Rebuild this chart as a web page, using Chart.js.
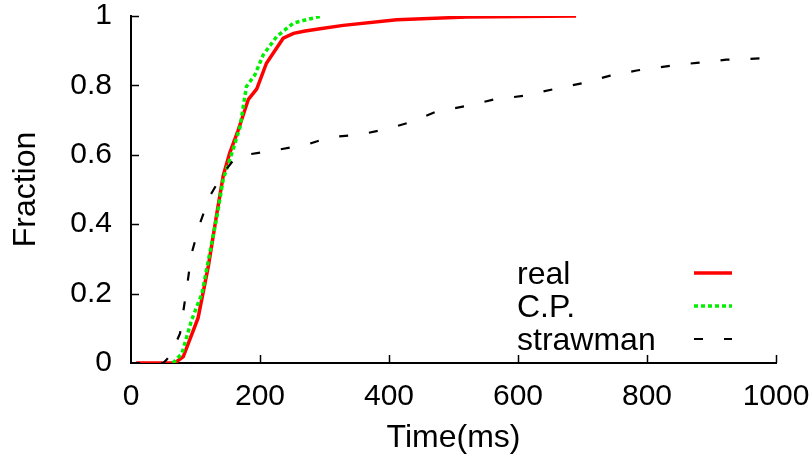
<!DOCTYPE html>
<html>
<head>
<meta charset="utf-8">
<title>Fraction vs Time</title>
<script src="https://cdn.jsdelivr.net/npm/chart.js@4.4.1/dist/chart.umd.min.js"></script>
<style>
  html, body { margin: 0; padding: 0; background: #fff; }
  #wrap { width: 811px; height: 465px; }
</style>
</head>
<body>
<div id="wrap"><canvas id="myChart" width="811" height="465"></canvas></div>
<script>
// values (x in ms, y = CDF fraction)
var realX = [8, 68, 81, 104, 120, 133, 143, 153, 166, 182, 195, 210, 236, 252, 270, 293, 329, 412, 520, 690];
var realY = [0, 0, 0.018, 0.13, 0.28, 0.43, 0.54, 0.605, 0.67, 0.76, 0.79, 0.864, 0.936, 0.95, 0.957, 0.963, 0.973, 0.989, 0.997, 1.0];

var cpX = [65, 79, 94, 110, 122, 133, 143, 158, 169, 179, 192, 205, 226, 252, 280, 296];
var cpY = [0, 0.028, 0.124, 0.2, 0.316, 0.42, 0.53, 0.614, 0.68, 0.797, 0.83, 0.888, 0.941, 0.98, 0.993, 1.0];

var strawX = [0, 50, 55, 63, 76, 86, 94, 107, 122, 143, 161, 179, 226, 272, 308, 355, 402, 433, 474, 518, 562, 608, 655, 699, 743, 784, 830, 877, 923, 980];
var strawY = [0, 0, 0.009, 0.03, 0.085, 0.21, 0.316, 0.403, 0.48, 0.547, 0.59, 0.6, 0.614, 0.629, 0.651, 0.658, 0.677, 0.694, 0.725, 0.74, 0.759, 0.77, 0.789, 0.806, 0.828, 0.843, 0.855, 0.865, 0.874, 0.878];

var seriesNames = ["real", "C.P.", "strawman"];
var xTicks = [0, 200, 400, 600, 800, 1000];
var yTicks = [0, 0.2, 0.4, 0.6, 0.8, 1];

var FONT = "'Liberation Sans', Arial, Helvetica, sans-serif";

function pts(xs, ys) {
  return xs.map(function (x, i) { return { x: x, y: ys[i] }; });
}

// gnuplot style: ticks point inward
var innerTicks = {
  id: 'innerTicks',
  afterDatasetsDraw: function (chart) {
    var ctx = chart.ctx, xs = chart.scales.x, ys = chart.scales.y;
    var a = chart.chartArea;
    ctx.save();
    ctx.strokeStyle = '#000';
    ctx.lineWidth = 1.5;
    ctx.beginPath();
    xTicks.forEach(function (v) {
      if (v === 0) return;
      var px = Math.round(xs.getPixelForValue(v)) + 0.5;
      ctx.moveTo(px, a.bottom);
      ctx.lineTo(px, a.bottom - 8);
    });
    yTicks.forEach(function (v) {
      if (v === 0) return;
      var py = Math.round(ys.getPixelForValue(v)) + 0.5;
      ctx.moveTo(a.left, py);
      ctx.lineTo(a.left + 8, py);
    });
    ctx.stroke();
    ctx.restore();
  }
};

// legend: text on the left, line sample on the right
var keyBox = {
  id: 'keyBox',
  afterDraw: function (chart) {
    var ctx = chart.ctx;
    ctx.save();
    ctx.font = '32px ' + FONT;
    ctx.fillStyle = '#000';
    ctx.textBaseline = 'alphabetic';
    ctx.textAlign = 'left';
    var rows = [284, 317, 350];
    chart.data.datasets.forEach(function (ds, i) {
      ctx.fillText(seriesNames[i], 517, rows[i]);
      ctx.beginPath();
      ctx.strokeStyle = ds.borderColor;
      ctx.lineWidth = ds.borderWidth;
      ctx.setLineDash(ds.borderDash || []);
      ctx.moveTo(694, rows[i] - 11);
      ctx.lineTo(732, rows[i] - 11);
      ctx.stroke();
    });
    ctx.restore();
  }
};

function plainLabel(v) { return String(v); }

new Chart(document.getElementById('myChart').getContext('2d'), {
  type: 'line',
  data: {
    datasets: [
      {
        label: seriesNames[0],
        data: pts(realX, realY),
        borderColor: '#ff0000',
        borderWidth: 3.5,
        order: 3
      },
      {
        label: seriesNames[1],
        data: pts(cpX, cpY),
        borderColor: '#00f000',
        borderWidth: 3.5,
        borderDash: [4, 3],
        order: 2
      },
      {
        label: seriesNames[2],
        data: pts(strawX, strawY),
        borderColor: '#000000',
        borderWidth: 2.2,
        borderDash: [9, 21],
        order: 1
      }
    ]
  },
  options: {
    responsive: false,
    animation: false,
    devicePixelRatio: 1,
    layout: { padding: 0 },
    elements: {
      point: { radius: 0 },
      line: { tension: 0, fill: false, borderCapStyle: 'butt' }
    },
    plugins: {
      legend: { display: false },
      tooltip: { enabled: false }
    },
    scales: {
      x: {
        type: 'linear',
        min: 0,
        max: 1000,
        afterFit: function (s) { s.height = 102; s.paddingRight = 35; s.paddingLeft = 0; },
        afterBuildTicks: function (s) { s.ticks = xTicks.map(function (v) { return { value: v }; }); },
        grid: { display: true, drawOnChartArea: false, drawTicks: false },
        border: { display: true, color: '#000', width: 2 },
        ticks: { color: '#000', padding: 16, maxRotation: 0, callback: plainLabel, font: { family: FONT, size: 30 } },
        title: {
          display: true,
          text: 'Time(ms)',
          color: '#000',
          padding: { top: 0, bottom: 8 },
          font: { family: FONT, size: 32 }
        }
      },
      y: {
        type: 'linear',
        min: 0,
        max: 1,
        afterFit: function (s) { s.width = 131; s.paddingTop = 16; s.paddingBottom = 0; },
        afterBuildTicks: function (s) { s.ticks = yTicks.map(function (v) { return { value: v }; }); },
        grid: { display: true, drawOnChartArea: false, drawTicks: false },
        border: { display: true, color: '#000', width: 2 },
        ticks: { color: '#000', padding: 19, callback: plainLabel, font: { family: FONT, size: 30, lineHeight: 1 } },
        title: {
          display: true,
          text: 'Fraction',
          color: '#000',
          padding: { top: 7, bottom: 0 },
          font: { family: FONT, size: 32 }
        }
      }
    }
  },
  plugins: [innerTicks, keyBox]
});
</script>
</body>
</html>
